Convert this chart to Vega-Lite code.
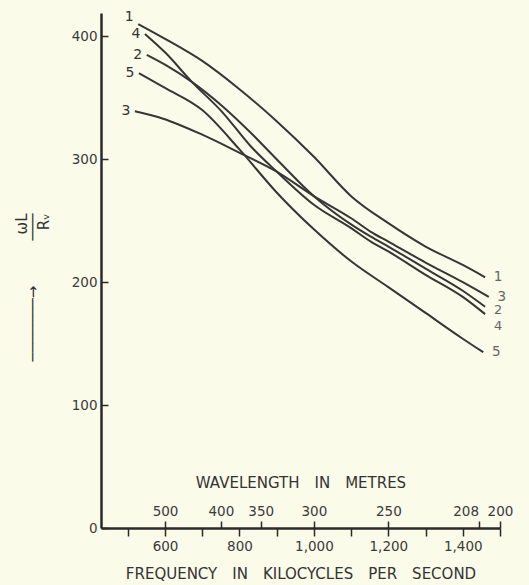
{
  "$schema": "https://vega.github.io/schema/vega-lite/v6.json",
  "width": 399,
  "height": 515,
  "autosize": {"type": "none"},
  "padding": {"left": 101, "top": 13, "right": 29, "bottom": 57},
  "background": "#fbfbe9",
  "config": {
    "view": {"stroke": null},
    "font": "DejaVu Sans",
    "axis": {"grid": false, "labelFont": "DejaVu Sans", "labelFontSize": 13.5, "labelColor": "#3a3a3a", "titleFont": "DejaVu Sans", "titleFontWeight": "normal", "titleColor": "#333333", "domainColor": "#2a2a2a", "tickColor": "#2a2a2a", "labelFlush": false, "labelOverlap": false}
  },
  "data": {
    "values": [
      {"curve": "1", "freq": 528, "value": 410}, {"curve": "1", "freq": 600, "value": 398}, {"curve": "1", "freq": 700, "value": 380}, {"curve": "1", "freq": 800, "value": 357}, {"curve": "1", "freq": 900, "value": 331}, {"curve": "1", "freq": 1000, "value": 302}, {"curve": "1", "freq": 1100, "value": 270}, {"curve": "1", "freq": 1200, "value": 248}, {"curve": "1", "freq": 1300, "value": 229}, {"curve": "1", "freq": 1400, "value": 214}, {"curve": "1", "freq": 1460, "value": 204},
      {"curve": "2", "freq": 551, "value": 385}, {"curve": "2", "freq": 600, "value": 377}, {"curve": "2", "freq": 672, "value": 363}, {"curve": "2", "freq": 755, "value": 343}, {"curve": "2", "freq": 829, "value": 322}, {"curve": "2", "freq": 900, "value": 300}, {"curve": "2", "freq": 1000, "value": 270}, {"curve": "2", "freq": 1100, "value": 247}, {"curve": "2", "freq": 1153, "value": 237}, {"curve": "2", "freq": 1200, "value": 229}, {"curve": "2", "freq": 1300, "value": 211}, {"curve": "2", "freq": 1400, "value": 193}, {"curve": "2", "freq": 1460, "value": 180},
      {"curve": "3", "freq": 519, "value": 339}, {"curve": "3", "freq": 595, "value": 333}, {"curve": "3", "freq": 700, "value": 320}, {"curve": "3", "freq": 802, "value": 305}, {"curve": "3", "freq": 900, "value": 290}, {"curve": "3", "freq": 1000, "value": 270}, {"curve": "3", "freq": 1100, "value": 252}, {"curve": "3", "freq": 1153, "value": 241}, {"curve": "3", "freq": 1200, "value": 233}, {"curve": "3", "freq": 1300, "value": 216}, {"curve": "3", "freq": 1400, "value": 200}, {"curve": "3", "freq": 1470, "value": 188},
      {"curve": "4", "freq": 546, "value": 402}, {"curve": "4", "freq": 600, "value": 387}, {"curve": "4", "freq": 672, "value": 363}, {"curve": "4", "freq": 755, "value": 338}, {"curve": "4", "freq": 829, "value": 311}, {"curve": "4", "freq": 900, "value": 290}, {"curve": "4", "freq": 1000, "value": 263}, {"curve": "4", "freq": 1100, "value": 244}, {"curve": "4", "freq": 1153, "value": 233}, {"curve": "4", "freq": 1200, "value": 225}, {"curve": "4", "freq": 1300, "value": 206}, {"curve": "4", "freq": 1400, "value": 188}, {"curve": "4", "freq": 1460, "value": 174},
      {"curve": "5", "freq": 530, "value": 370}, {"curve": "5", "freq": 600, "value": 358}, {"curve": "5", "freq": 700, "value": 340}, {"curve": "5", "freq": 800, "value": 308}, {"curve": "5", "freq": 900, "value": 273}, {"curve": "5", "freq": 1000, "value": 243}, {"curve": "5", "freq": 1100, "value": 217}, {"curve": "5", "freq": 1200, "value": 196}, {"curve": "5", "freq": 1300, "value": 175}, {"curve": "5", "freq": 1400, "value": 154}, {"curve": "5", "freq": 1455, "value": 143}
    ]
  },
  "layer": [
    {
      "mark": {"type": "line", "interpolate": "monotone", "strokeWidth": 2, "color": "#363636"},
      "encoding": {
        "x": {
          "field": "freq", "type": "quantitative",
          "scale": {"domain": [428, 1500], "nice": false, "zero": false},
          "axis": {
            "orient": "bottom",
            "values": [500, 600, 700, 800, 900, 1000, 1100, 1200, 1300, 1400, 1500],
            "labelExpr": "datum.value % 200 == 0 && datum.value < 1500 ? format(datum.value, ',') : ''",
            "tickSize": 8, "tickWidth": 1.5, "domainWidth": 2.5, "labelPadding": 3,
            "title": "FREQUENCY\u2003IN\u2003KILOCYCLES\u2003PER\u2003SECOND", "titleFontSize": 15, "titlePadding": 14
          }
        },
        "y": {
          "field": "value", "type": "quantitative",
          "scale": {"domain": [0, 419], "nice": false},
          "axis": {
            "orient": "left",
            "values": [0, 100, 200, 300, 400],
            "tickSize": -7, "tickWidth": 1.5, "domainWidth": 2.5, "labelPadding": 11,
            "title": ["\u03c9L", "\u2500\u2500\u2500\u2500\u2500\u2500\u2500\u2192\u2003\u2003\u2003\u2500\u2500\u2500", "R\u1d65"],
            "titleFontSize": 15, "titleLineHeight": 11, "titleAngle": -90, "titleAlign": "right", "titleBaseline": "middle",
            "titleX": -80, "titleY": 200
          }
        },
        "detail": {"field": "curve"}
      }
    },
    {
      "transform": [
        {"joinaggregate": [{"op": "min", "field": "freq", "as": "fmin"}], "groupby": ["curve"]},
        {"filter": "datum.freq == datum.fmin && datum.curve != '1'"}
      ],
      "mark": {"type": "text", "dx": -9, "align": "center", "baseline": "middle", "fontSize": 14, "color": "#333333", "font": "DejaVu Sans"},
      "encoding": {
        "x": {"field": "freq", "type": "quantitative", "axis": null},
        "y": {"field": "value", "type": "quantitative", "axis": null},
        "text": {"field": "curve"}
      }
    },
    {
      "transform": [
        {"joinaggregate": [{"op": "min", "field": "freq", "as": "fmin"}], "groupby": ["curve"]},
        {"filter": "datum.freq == datum.fmin && datum.curve == '1'"}
      ],
      "mark": {"type": "text", "dx": -9, "dy": -7, "align": "center", "baseline": "middle", "fontSize": 14, "color": "#333333", "font": "DejaVu Sans"},
      "encoding": {
        "x": {"field": "freq", "type": "quantitative", "axis": null},
        "y": {"field": "value", "type": "quantitative", "axis": null},
        "text": {"field": "curve"}
      }
    },
    {
      "transform": [
        {"joinaggregate": [{"op": "max", "field": "freq", "as": "fmax"}], "groupby": ["curve"]},
        {"filter": "datum.freq == datum.fmax && (datum.curve == '1' || datum.curve == '3' || datum.curve == '5')"}
      ],
      "mark": {"type": "text", "dx": 13, "align": "center", "baseline": "middle", "fontSize": 13.5, "color": "#666666", "font": "DejaVu Sans"},
      "encoding": {
        "x": {
          "field": "freq", "type": "quantitative",
          "axis": {
            "orient": "top", "offset": -515,
            "values": [600, 750, 857.14, 1000, 1200, 1442.3, 1500],
            "labelExpr": "format(300000 / datum.value, 'd')",
            "labelAlign": {"condition": {"test": "datum.value > 1400 && datum.value < 1450", "value": "right"}, "value": "center"},
            "tickSize": 7, "tickWidth": 1.5, "domain": false, "labelPadding": 3,
            "title": "WAVELENGTH\u2003IN\u2003METRES", "titleFontSize": 15, "titlePadding": 14
          }
        },
        "y": {"field": "value", "type": "quantitative", "axis": null},
        "text": {"field": "curve"}
      }
    },
    {
      "transform": [
        {"joinaggregate": [{"op": "max", "field": "freq", "as": "fmax"}], "groupby": ["curve"]},
        {"filter": "datum.freq == datum.fmax && datum.curve == '2'"}
      ],
      "mark": {"type": "text", "dx": 13, "dy": 3, "align": "center", "baseline": "middle", "fontSize": 13, "color": "#666666", "font": "DejaVu Sans"},
      "encoding": {
        "x": {"field": "freq", "type": "quantitative", "axis": null},
        "y": {"field": "value", "type": "quantitative", "axis": null},
        "text": {"field": "curve"}
      }
    },
    {
      "transform": [
        {"joinaggregate": [{"op": "max", "field": "freq", "as": "fmax"}], "groupby": ["curve"]},
        {"filter": "datum.freq == datum.fmax && datum.curve == '4'"}
      ],
      "mark": {"type": "text", "dx": 13, "dy": 12, "align": "center", "baseline": "middle", "fontSize": 13, "color": "#666666", "font": "DejaVu Sans"},
      "encoding": {
        "x": {"field": "freq", "type": "quantitative", "axis": null},
        "y": {"field": "value", "type": "quantitative", "axis": null},
        "text": {"field": "curve"}
      }
    }
  ],
  "resolve": {"axis": {"x": "independent", "y": "independent"}}
}
